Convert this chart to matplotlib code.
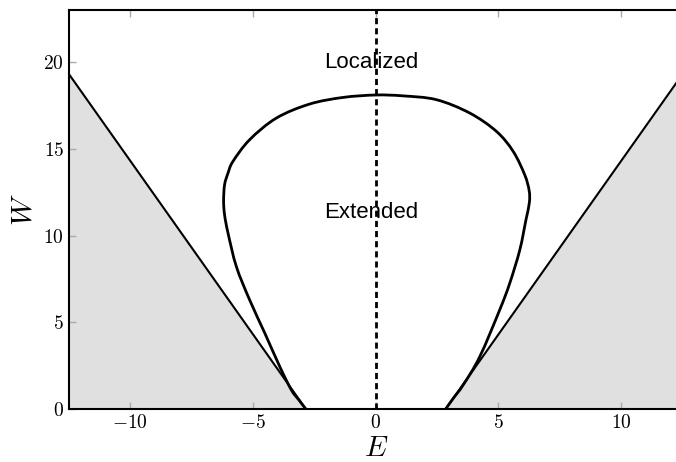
import matplotlib
matplotlib.use("Agg")
import matplotlib.pyplot as plt
from matplotlib.path import Path
from matplotlib.patches import PathPatch
import numpy as np

plt.rcParams["font.family"] = "serif"
plt.rcParams["font.serif"] = ["cmr10"]
plt.rcParams["mathtext.fontset"] = "cm"
plt.rcParams["axes.formatter.use_mathtext"] = True

# band edges |E| = E0 + W/2
edge_left_E = [-12.5, -2.85]
edge_left_W = [19.3, 0.0]
edge_right_E = [2.85, 12.5]
edge_right_W = [0.0, 19.3]

# mobility edge trajectory (E, W), from the left foot over the top to the right foot
mob_E = [-2.85, -3.15, -3.44, -3.91, -4.52, -5.14, -5.68, -6.02, -6.16, -6.20,
         -6.16, -6.02, -5.82, -5.14, -4.05, -2.69, -1.33, 0.0,
         1.11, 2.47, 3.83, 4.92, 5.60, 6.07, 6.25, 6.26, 6.12, 5.87, 5.46,
         5.05, 4.24, 3.56, 3.15, 2.85]
mob_W = [0.0, 0.55, 1.10, 2.44, 4.37, 6.29, 8.21, 10.14, 11.19, 12.0,
         12.93, 13.6, 14.27, 15.52, 16.77, 17.58, 17.96, 18.1,
         18.05, 17.83, 17.06, 16.0, 14.85, 13.5, 12.6, 11.9, 10.9, 9.17, 7.25,
         5.71, 3.02, 1.38, 0.6, 0.0]


def smooth_path(xs, ys):
    # Catmull-Rom segments written as cubic Bezier pieces
    p = np.column_stack([xs, ys])
    p = np.vstack([p[0], p, p[-1]])
    verts = [p[1]]
    codes = [Path.MOVETO]
    for i in range(1, len(p) - 2):
        c1 = p[i] + (p[i + 1] - p[i - 1]) / 6
        c2 = p[i + 1] - (p[i + 2] - p[i]) / 6
        verts += [c1, c2, p[i + 1]]
        codes += [Path.CURVE4] * 3
    return Path(verts, codes)


fig = plt.figure(figsize=(6.76, 4.62), dpi=100)
ax = fig.add_axes([69 / 676, 53 / 462, 613.5 / 676, 399 / 462])

ax.fill_between(edge_left_E, edge_left_W, 0, color="#e0e0e0", lw=0)
ax.fill_between(edge_right_E, edge_right_W, 0, color="#e0e0e0", lw=0)
ax.plot(edge_left_E, edge_left_W, color="black", lw=1.5)
ax.plot(edge_right_E, edge_right_W, color="black", lw=1.5)
ax.add_patch(PathPatch(smooth_path(mob_E, mob_W), fill=False,
                       edgecolor="black", lw=2.0, joinstyle="round"))
ax.axvline(0, color="black", lw=2.0, dashes=(2.2, 1.45))

ax.text(-0.2, 20.0, "Localized", ha="center", va="center",
        family="Liberation Sans", fontsize=16)
ax.text(-0.2, 11.3, "Extended", ha="center", va="center",
        family="Liberation Sans", fontsize=16)

ax.set_xlim(-12.5, 12.5)
ax.set_ylim(0, 23)
ax.set_xticks([-10, -5, 0, 5, 10])
ax.set_yticks([0, 5, 10, 15, 20])
ax.tick_params(direction="in", length=5, width=1, color="#aaaaaa",
               top=True, right=True, labelsize=14)
for s in ax.spines.values():
    s.set_linewidth(1.5)

ax.set_xlabel("$E$", fontsize=21, labelpad=3)
ax.set_ylabel("$W$", fontsize=21, labelpad=4)

fig.savefig("out.png", dpi=100)
